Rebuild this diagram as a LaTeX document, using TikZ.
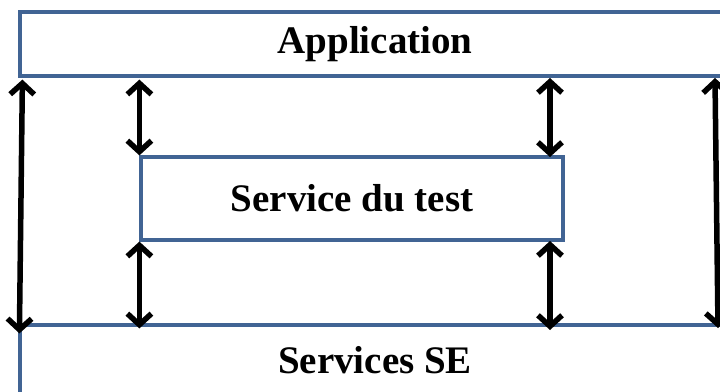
\documentclass[tikz,border=0pt]{standalone}
\usepackage{fontspec}
\setmainfont{Liberation Serif}
\usetikzlibrary{arrows.meta,calc}
\definecolor{boxblue}{RGB}{65,100,148}
\tikzset{
  layer/.style={draw=boxblue, line width=3.2pt, rectangle, inner sep=0pt,
    font=\fontsize{39}{44}\selectfont\bfseries, text=black},
  arrtip/.tip={Straight Barb[length=11pt,width=24pt,line width=5.5pt]},
  arr/.style={draw=black, line width=5.5pt, arrtip-arrtip}
}
\begin{document}
\begin{tikzpicture}[x=1pt,y=-1pt]
\useasboundingbox (0,0) rectangle (720,391);
\clip (0,0) rectangle (720,391);
\node[layer, minimum width=710pt, minimum height=64pt] (app) at (375,44) {Application};
\node[layer, minimum width=422pt, minimum height=83pt] (test) at (352,198.5) {Service du test};
\node[layer, minimum width=710pt, minimum height=76pt, text depth=0pt] (se) at (375,363) {};
\node[font=\fontsize{39}{44}\selectfont\bfseries, anchor=base] (setxt) at (375,373) {Services SE};
% arrows
\coordinate (l1) at ($(app.south west)+(4,2)$);
\coordinate (l2) at ($(se.north west)+(1,10)$);
\draw[arr] (l1) -- (l2);
\coordinate (r1) at (715,78);
\coordinate (r2) at (718,328);
\draw[arr] (r1) -- (r2);
\draw[arr] (test.north west |- app.south) ++(0,2) coordinate (a1) -- (test.north west);
\draw[arr] (test.south west) -- ($(test.south west |- se.north)+(0,5)$) coordinate (a2);
\coordinate (b1) at (550,78);
\coordinate (b2) at (550,157);
\coordinate (b3) at (550,241);
\coordinate (b4) at (550,330);
\draw[arr] (b1) -- (b2);
\draw[arr] (b3) -- (b4);
\end{tikzpicture}
\end{document}
